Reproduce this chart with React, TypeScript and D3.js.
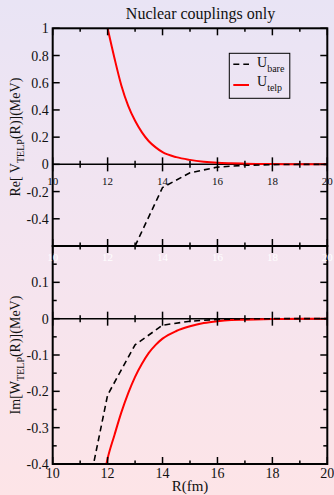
import React, { useRef, useEffect } from 'react';
import * as d3 from 'd3';

// top panel: Re part
const reTelpR = [12, 12.25, 12.5, 12.75, 13, 13.25, 13.5, 13.75, 14, 14.5, 15, 15.5, 16, 16.5, 17, 18, 19, 20];
const reTelpV = [1.0, 0.78, 0.58, 0.43, 0.32, 0.235, 0.17, 0.125, 0.09, 0.053, 0.033, 0.02, 0.012, 0.008, 0.005, 0.002, 0.001, 0.0];
const reBareR = [13, 14, 15, 16, 17, 18, 19, 20];
const reBareV = [-0.6, -0.17, -0.062, -0.02, -0.007, -0.002, 0, 0];

// bottom panel: Im part
const imTelpR = [11.9, 12, 12.25, 12.5, 12.75, 13, 13.25, 13.5, 13.75, 14, 14.5, 15, 15.5, 16, 16.5, 17, 18, 19, 20];
const imTelpV = [-0.42, -0.385, -0.32, -0.258, -0.205, -0.16, -0.124, -0.094, -0.072, -0.055, -0.034, -0.021, -0.012, -0.007, -0.004, -0.003, -0.001, 0, 0];
const imBareR = [11, 12, 13, 14, 15, 16, 17, 18, 19, 20];
const imBareV = [-0.58, -0.21, -0.072, -0.018, -0.007, -0.002, -0.0005, 0, 0, 0];

const xMajor = [10, 12, 14, 16, 18, 20];
const xMinor = [11, 13, 15, 17, 19];
const yTopMajor = [-0.4, -0.2, 0, 0.2, 0.4, 0.6, 0.8, 1];
const yTopLabels = ['-0.4', '-0.2', '0', '0.2', '0.4', '0.6', '0.8', '1'];
const yBotMajor = [-0.4, -0.3, -0.2, -0.1, 0, 0.1];
const yBotLabels = ['-0.4', '-0.3', '-0.2', '-0.1', '0', '0.1'];
const yBotMinor = [-0.35, -0.25, -0.15, -0.05, 0.05, 0.15];

const App = () => {
  const svgRef = useRef<SVGSVGElement | null>(null);

  useEffect(() => {
    const W = 334, H = 495;
    const left = 52.7, right = 327.3;
    const top = 28.3, mid = 246, bottom = 464;
    const font = '"Liberation Serif", "Times New Roman", serif';

    const svg = d3.select(svgRef.current)
      .attr('width', W)
      .attr('height', H)
      .style('position', 'absolute')
      .style('left', '0px')
      .style('top', '0px')
      .style('display', 'block');

    const defs = svg.append('defs');
    const grad = defs.append('linearGradient')
      .attr('id', 'bg').attr('x1', 0).attr('y1', 0).attr('x2', 0).attr('y2', 1);
    grad.append('stop').attr('offset', '0%').attr('stop-color', '#e9e4f5');
    grad.append('stop').attr('offset', '55%').attr('stop-color', '#f5e4ef');
    grad.append('stop').attr('offset', '100%').attr('stop-color', '#fde4e7');
    defs.append('clipPath').attr('id', 'clipTop')
      .append('rect').attr('x', left).attr('y', top).attr('width', right - left).attr('height', mid - top);
    defs.append('clipPath').attr('id', 'clipBot')
      .append('rect').attr('x', left).attr('y', mid).attr('width', right - left).attr('height', bottom - mid);

    svg.append('rect').attr('width', W).attr('height', H).attr('fill', 'url(#bg)');

    const x = d3.scaleLinear().domain([10, 20]).range([left, right]);
    const yTop = d3.scaleLinear().domain([-0.6, 1]).range([mid, top]);
    const yBot = d3.scaleLinear().domain([-0.4, 0.2]).range([bottom, mid]);

    const drawCurve = (rs: number[], vs: number[], y: d3.ScaleLinear<number, number>, clip: string, dashed: boolean) => {
      const line = d3.line<number>().x((d) => x(rs[d])).y((d) => y(vs[d]));
      if (!dashed) line.curve(d3.curveMonotoneX);
      svg.append('path')
        .attr('d', line(d3.range(rs.length)))
        .attr('clip-path', `url(#${clip})`)
        .attr('fill', 'none')
        .attr('stroke', dashed ? '#000' : '#ff0000')
        .attr('stroke-width', dashed ? 1.6 : 2)
        .attr('stroke-dasharray', dashed ? '6,4' : null);
    };

    // zero lines
    svg.append('line').attr('x1', left).attr('x2', right).attr('y1', yTop(0)).attr('y2', yTop(0))
      .attr('stroke', '#000').attr('stroke-width', 1.5);
    svg.append('line').attr('x1', left).attr('x2', right).attr('y1', yBot(0)).attr('y2', yBot(0))
      .attr('stroke', '#000').attr('stroke-width', 1.5);

    drawCurve(reTelpR, reTelpV, yTop, 'clipTop', false);
    drawCurve(reBareR, reBareV, yTop, 'clipTop', true);
    drawCurve(imTelpR, imTelpV, yBot, 'clipBot', false);
    drawCurve(imBareR, imBareV, yBot, 'clipBot', true);

    const ticks = svg.append('g').attr('stroke', '#000').attr('stroke-width', 1.5);
    // x ticks: [yPos, up, down]
    const xRows: [number, number, number][] = [
      [top, 0, 1], [yTop(0), 1, 1], [mid, 1, 1], [yBot(0), 1, 1], [bottom, 1, 0],
    ];
    xRows.forEach(([yy, up, down]) => {
      xMajor.forEach((v) => {
        ticks.append('line').attr('x1', x(v)).attr('x2', x(v))
          .attr('y1', yy - 7 * up).attr('y2', yy + 7 * down);
      });
      xMinor.forEach((v) => {
        ticks.append('line').attr('x1', x(v)).attr('x2', x(v))
          .attr('y1', yy - 3.5 * up).attr('y2', yy + 3.5 * down);
      });
    });
    yTopMajor.forEach((v) => {
      ticks.append('line').attr('x1', left).attr('x2', left + 7).attr('y1', yTop(v)).attr('y2', yTop(v));
      ticks.append('line').attr('x1', right - 7).attr('x2', right).attr('y1', yTop(v)).attr('y2', yTop(v));
    });
    yBotMajor.forEach((v) => {
      ticks.append('line').attr('x1', left).attr('x2', left + 7).attr('y1', yBot(v)).attr('y2', yBot(v));
      ticks.append('line').attr('x1', right - 7).attr('x2', right).attr('y1', yBot(v)).attr('y2', yBot(v));
    });
    yBotMinor.forEach((v) => {
      ticks.append('line').attr('x1', left).attr('x2', left + 4).attr('y1', yBot(v)).attr('y2', yBot(v));
      ticks.append('line').attr('x1', right - 4).attr('x2', right).attr('y1', yBot(v)).attr('y2', yBot(v));
    });

    // frames
    svg.append('rect').attr('x', left).attr('y', top).attr('width', right - left).attr('height', mid - top)
      .attr('fill', 'none').attr('stroke', '#000').attr('stroke-width', 2);
    svg.append('rect').attr('x', left).attr('y', mid).attr('width', right - left).attr('height', bottom - mid)
      .attr('fill', 'none').attr('stroke', '#000').attr('stroke-width', 2);

    const txt = svg.append('g').attr('font-family', font).attr('fill', '#111');
    yTopMajor.forEach((v, i) => {
      txt.append('text').attr('x', left - 4).attr('y', yTop(v) + 5)
        .attr('text-anchor', 'end').attr('font-size', 14).text(yTopLabels[i]);
    });
    yBotMajor.forEach((v, i) => {
      txt.append('text').attr('x', left - 4).attr('y', yBot(v) + 5)
        .attr('text-anchor', 'end').attr('font-size', 14).text(yBotLabels[i]);
    });
    xMajor.forEach((v) => {
      txt.append('text').attr('x', x(v)).attr('y', yTop(0) + 21)
        .attr('text-anchor', 'middle').attr('font-size', 11).text(String(v));
      txt.append('text').attr('x', x(v)).attr('y', mid + 15)
        .attr('text-anchor', 'middle').attr('font-size', 11).attr('fill', '#fff').text(String(v));
      txt.append('text').attr('x', x(v)).attr('y', bottom + 14)
        .attr('text-anchor', 'middle').attr('font-size', 14).text(String(v));
    });

    txt.append('text').attr('x', 200.5).attr('y', 19).attr('text-anchor', 'middle')
      .attr('font-size', 16).text('Nuclear couplings only');
    txt.append('text').attr('x', (left + right) / 2).attr('y', 491).attr('text-anchor', 'middle')
      .attr('font-size', 15).text('R(fm)');

    const yTitle = (cy: number, pre: string) => {
      const t = txt.append('text').attr('transform', `translate(20,${cy}) rotate(-90)`)
        .attr('text-anchor', 'middle').attr('font-size', 14);
      t.append('tspan').text(pre);
      t.append('tspan').attr('font-size', 10).attr('dy', 4).text('TELP');
      t.append('tspan').attr('dy', -4).text('(R)](MeV)');
    };
    yTitle((top + mid) / 2, 'Re[ V');
    yTitle((mid + bottom) / 2, 'Im[W');

    // legend
    const lg = svg.append('g');
    lg.append('rect').attr('x', 229.3).attr('y', 53.3).attr('width', 60.5).attr('height', 45)
      .attr('fill', 'none').attr('stroke', '#000').attr('stroke-width', 1);
    lg.append('line').attr('x1', 233.3).attr('x2', 249).attr('y1', 64.3).attr('y2', 64.3)
      .attr('stroke', '#000').attr('stroke-width', 1.6).attr('stroke-dasharray', '6,4');
    lg.append('line').attr('x1', 233.3).attr('x2', 249).attr('y1', 85).attr('y2', 85)
      .attr('stroke', '#ff0000').attr('stroke-width', 2);
    const lt = lg.append('g').attr('font-family', font).attr('fill', '#111');
    const t1 = lt.append('text').attr('x', 257).attr('y', 67).attr('font-size', 14);
    t1.append('tspan').text('U');
    t1.append('tspan').attr('font-size', 10).attr('dy', 5).text('bare');
    const t2 = lt.append('text').attr('x', 257).attr('y', 86).attr('font-size', 14);
    t2.append('tspan').text('U');
    t2.append('tspan').attr('font-size', 10).attr('dy', 5).text('telp');

    return () => {
      svg.selectAll('*').remove();
    };
  }, []);

  return <svg ref={svgRef}></svg>;
};

export default App;
